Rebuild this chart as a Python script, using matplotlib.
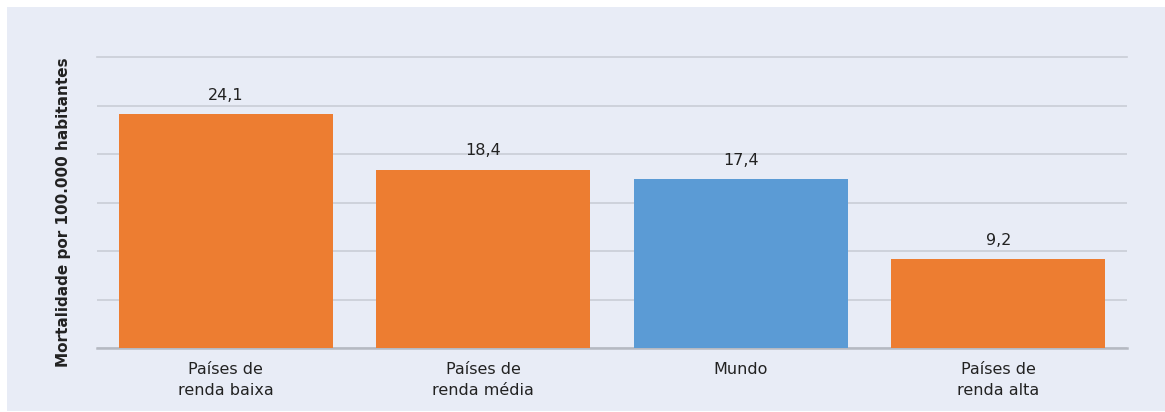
import matplotlib.pyplot as plt
import matplotlib.patches as mpatches

categories = ['Países de\nrenda baixa', 'Países de\nrenda média', 'Mundo', 'Países de\nrenda alta']
values = [24.1, 18.4, 17.4, 9.2]
value_labels = ['24,1', '18,4', '17,4', '9,2']
bar_colors = ['#ED7D31', '#ED7D31', '#5B9BD5', '#ED7D31']

fig = plt.figure(figsize=(11.65, 4.12), dpi=100)
fig.patch.set_facecolor('white')

# light panel behind the chart
panel = mpatches.Rectangle((7 / 1165, 1 / 412), 1 - 7 / 1165, 404 / 412,
                           transform=fig.transFigure, facecolor='#E8ECF6',
                           edgecolor='none', zorder=-10)
fig.patches.append(panel)

ax = fig.add_axes([97 / 1165, 1 - 348 / 412, 1030 / 1165, 291 / 412])
ax.set_facecolor('none')
ax.set_zorder(1)

x = range(len(categories))
bars = ax.bar(x, values, width=0.833, color=bar_colors, zorder=3)

for bar, lab in zip(bars, value_labels):
    ax.annotate(lab, (bar.get_x() + bar.get_width() / 2, bar.get_height()),
                xytext=(0, 8), textcoords='offset points',
                ha='center', va='bottom', fontsize=11.5, color='#222222')

ax.set_xlim(-0.5, 3.5)
ax.set_ylim(0, 30)
ax.set_yticks([0, 5, 10, 15, 20, 25, 30])
ax.set_yticklabels([])
ax.tick_params(axis='y', length=0)
ax.tick_params(axis='x', length=0, pad=10, labelsize=11.5, labelcolor='#222222')
ax.set_xticks(list(x))
ax.set_xticklabels(categories, linespacing=1.55)

ax.grid(axis='y', color='#C9CDD6', linewidth=1.2, zorder=0)
ax.get_ygridlines()[-1].set_clip_on(False)
for side in ['top', 'right', 'left']:
    ax.spines[side].set_visible(False)
ax.spines['bottom'].set_color('#B5B9C2')
ax.spines['bottom'].set_linewidth(1.8)

ax.set_ylabel('Mortalidade por 100.000 habitantes', fontsize=11,
              fontweight='bold', color='#222222')
ax.yaxis.set_label_coords(-26 / 1030, 0.467)

fig.savefig('out.png', dpi=100, facecolor='white')
